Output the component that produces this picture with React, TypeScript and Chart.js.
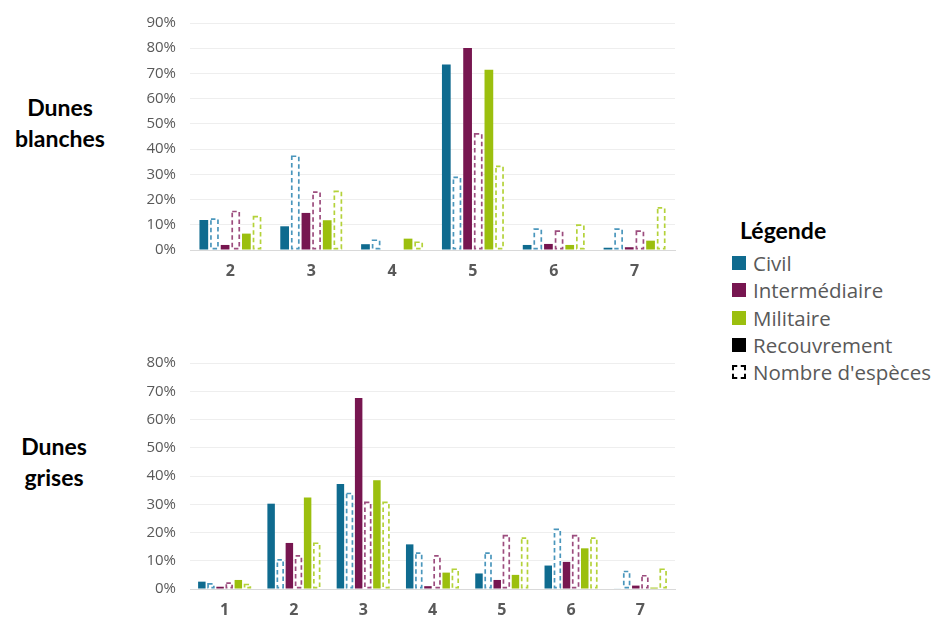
import React, { useEffect, useRef } from "react";
import { Chart, registerables } from "chart.js";

Chart.register(...registerables);

// ---- Data (percent) ----
const topCategories = ["2", "3", "4", "5", "6", "7"];
const topCivilCover = [11.9, 9.4, 2.3, 73.5, 2.0, 0.9];
const topCivilSpecies = [12.6, 37.5, 4.2, 29.1, 8.6, 8.6];
const topInterCover = [2.0, 14.7, 0, 80.1, 2.4, 1.1];
const topInterSpecies = [15.6, 23.3, 0, 46.4, 7.8, 7.8];
const topMilCover = [6.5, 11.8, 4.5, 71.5, 2.0, 3.7];
const topMilSpecies = [13.6, 23.6, 3.4, 33.5, 10.2, 17.0];
const topMax = 90;

const bottomCategories = ["1", "2", "3", "4", "5", "6", "7"];
const bottomCivilCover = [2.6, 30.2, 37.2, 15.8, 5.5, 8.3, 0.2];
const bottomCivilSpecies = [2.1, 10.6, 34.1, 13.0, 13.0, 21.4, 6.5];
const bottomInterCover = [0.8, 16.3, 67.6, 1.0, 3.2, 9.6, 1.2];
const bottomInterSpecies = [2.4, 12.0, 31.0, 12.0, 19.2, 19.2, 5.0];
const bottomMilCover = [3.2, 32.4, 38.5, 5.8, 5.0, 14.4, 0.5];
const bottomMilSpecies = [1.9, 16.5, 31.0, 7.3, 18.3, 18.3, 7.3];
const bottomMax = 80;

const legendTitle = "Légende";
const legendLabels = ["Civil", "Intermédiaire", "Militaire", "Recouvrement", "Nombre d'espèces"];

// ---- Styles ----
const CIVIL = "#0F6B8F";
const INTER = "#771650";
const MIL = "#9BBF0E";
const CIVIL_D = "#4A96BC";
const INTER_D = "#9C4D7E";
const MIL_D = "#B4D23A";

const dashedBars = {
  id: "dashedBars",
  afterDatasetsDraw(chart: any) {
    const ctx = chart.ctx;
    chart.data.datasets.forEach((ds: any, i: number) => {
      if (!ds.dashed) return;
      const meta = chart.getDatasetMeta(i);
      meta.data.forEach((el: any) => {
        const { x, y, base, width } = el.getProps(["x", "y", "base", "width"], true);
        const h = base - y;
        if (h < 0.5) return;
        const lw = 1.7;
        ctx.save();
        ctx.strokeStyle = ds.dashColor;
        ctx.lineWidth = lw;
        ctx.setLineDash([4.5, 3]);
        ctx.strokeRect(x - width / 2 + lw / 2, y + lw / 2, width - lw, Math.max(h - lw, 0.5));
        ctx.restore();
      });
    });
  },
};

function makeDatasets(civC: number[], civS: number[], intC: number[], intS: number[], milC: number[], milS: number[]) {
  return [
    { label: "Civil", data: civC, backgroundColor: CIVIL },
    { label: "Civil esp", data: civS, backgroundColor: "#FFFFFF", dashed: true, dashColor: CIVIL_D },
    { label: "Intermédiaire", data: intC, backgroundColor: INTER },
    { label: "Intermédiaire esp", data: intS, backgroundColor: "#FFFFFF", dashed: true, dashColor: INTER_D },
    { label: "Militaire", data: milC, backgroundColor: MIL },
    { label: "Militaire esp", data: milS, backgroundColor: "#FFFFFF", dashed: true, dashColor: MIL_D },
  ];
}

function BarChart(props: { labels: string[]; datasets: any[]; max: number; width: number; height: number; xHeight: number; style: any }) {
  const ref = useRef<HTMLCanvasElement | null>(null);
  useEffect(() => {
    if (!ref.current) return;
    const chart = new Chart(ref.current, {
      type: "bar",
      data: { labels: props.labels, datasets: props.datasets },
      plugins: [dashedBars],
      options: {
        animation: false,
        responsive: false,
        maintainAspectRatio: false,
        layout: { padding: { top: 23, right: 15, left: 0, bottom: 0 } },
        plugins: { legend: { display: false }, tooltip: { enabled: false } },
        datasets: { bar: { categoryPercentage: 0.79, barPercentage: 0.82 } },
        scales: {
          x: {
            grid: { display: false, drawTicks: false },
            border: { display: true, color: "#D9D9D9", width: 1 },
            ticks: {
              font: { family: "'Open Sans', sans-serif", size: 16, weight: "bold" },
              color: "#595959",
              padding: 12,
              maxRotation: 0,
            },
            afterFit: (s: any) => {
              s.height = props.xHeight;
            },
          },
          y: {
            min: 0,
            max: props.max,
            ticks: {
              stepSize: 10,
              callback: (v: any) => v + "%",
              font: { family: "'Open Sans', sans-serif", size: 15 },
              color: "#595959",
              padding: 14,
            },
            grid: {
              color: (c: any) => (c.tick && c.tick.value === 0 ? "#D9D9D9" : "#EEEEEE"),
              drawTicks: false,
              lineWidth: 1,
            },
            border: { display: false },
            afterFit: (s: any) => {
              s.width = 60;
            },
          },
        },
      } as any,
    });
    return () => chart.destroy();
  }, []);
  return (
    <div style={{ position: "absolute", ...props.style, width: props.width, height: props.height }}>
      <canvas ref={ref} width={props.width} height={props.height} style={{ width: props.width, height: props.height }} />
    </div>
  );
}

const titleStyle: any = {
  position: "absolute",
  fontFamily: "Lato, 'Open Sans', sans-serif",
  fontWeight: 700,
  fontSize: 23,
  lineHeight: "31px",
  color: "#000",
  textAlign: "center",
};

export default function App() {
  const legendColors = [CIVIL, INTER, MIL, "#000000"];
  return (
    <div style={{ position: "fixed", left: 0, top: 0, width: 935, height: 617, overflow: "hidden", background: "#FFFFFF" }}>
      <BarChart
        labels={topCategories}
        datasets={makeDatasets(topCivilCover, topCivilSpecies, topInterCover, topInterSpecies, topMilCover, topMilSpecies)}
        max={topMax}
        width={560}
        height={290}
        xHeight={40}
        style={{ left: 130, top: 0 }}
      />
      <BarChart
        labels={bottomCategories}
        datasets={makeDatasets(bottomCivilCover, bottomCivilSpecies, bottomInterCover, bottomInterSpecies, bottomMilCover, bottomMilSpecies)}
        max={bottomMax}
        width={560}
        height={277}
        xHeight={28}
        style={{ left: 130, top: 340 }}
      />
      <div style={{ ...titleStyle, left: 0, top: 92, width: 120 }}>
        Dunes
        <br />
        blanches
      </div>
      <div style={{ ...titleStyle, left: 0, top: 431, width: 108 }}>
        Dunes
        <br />
        grises
      </div>
      <div
        style={{
          position: "absolute",
          left: 740,
          top: 215,
          fontFamily: "Lato, 'Open Sans', sans-serif",
          fontWeight: 700,
          fontSize: 23,
          lineHeight: "31px",
          color: "#000",
          whiteSpace: "nowrap",
        }}
      >
        {legendTitle}
      </div>
      {legendLabels.map((lab, i) => (
        <div
          key={lab}
          style={{
            position: "absolute",
            left: 729,
            top: 263 + i * 27.3 - 14,
            height: 28,
            display: "flex",
            alignItems: "center",
            whiteSpace: "nowrap",
          }}
        >
          {i < 4 ? (
            <span style={{ display: "inline-block", width: 14, height: 14, background: legendColors[i], marginLeft: 3 }} />
          ) : (
            <span
              style={{
                display: "inline-block",
                width: 14,
                height: 14,
                border: "2px dashed #000",
                marginLeft: 3,
                boxSizing: "border-box",
              }}
            />
          )}
          <span
            style={{
              marginLeft: 7,
              fontFamily: "'Open Sans', sans-serif",
              fontSize: 20.5,
              color: "#595959",
              lineHeight: "28px",
            }}
          >
            {lab}
          </span>
        </div>
      ))}
    </div>
  );
}
